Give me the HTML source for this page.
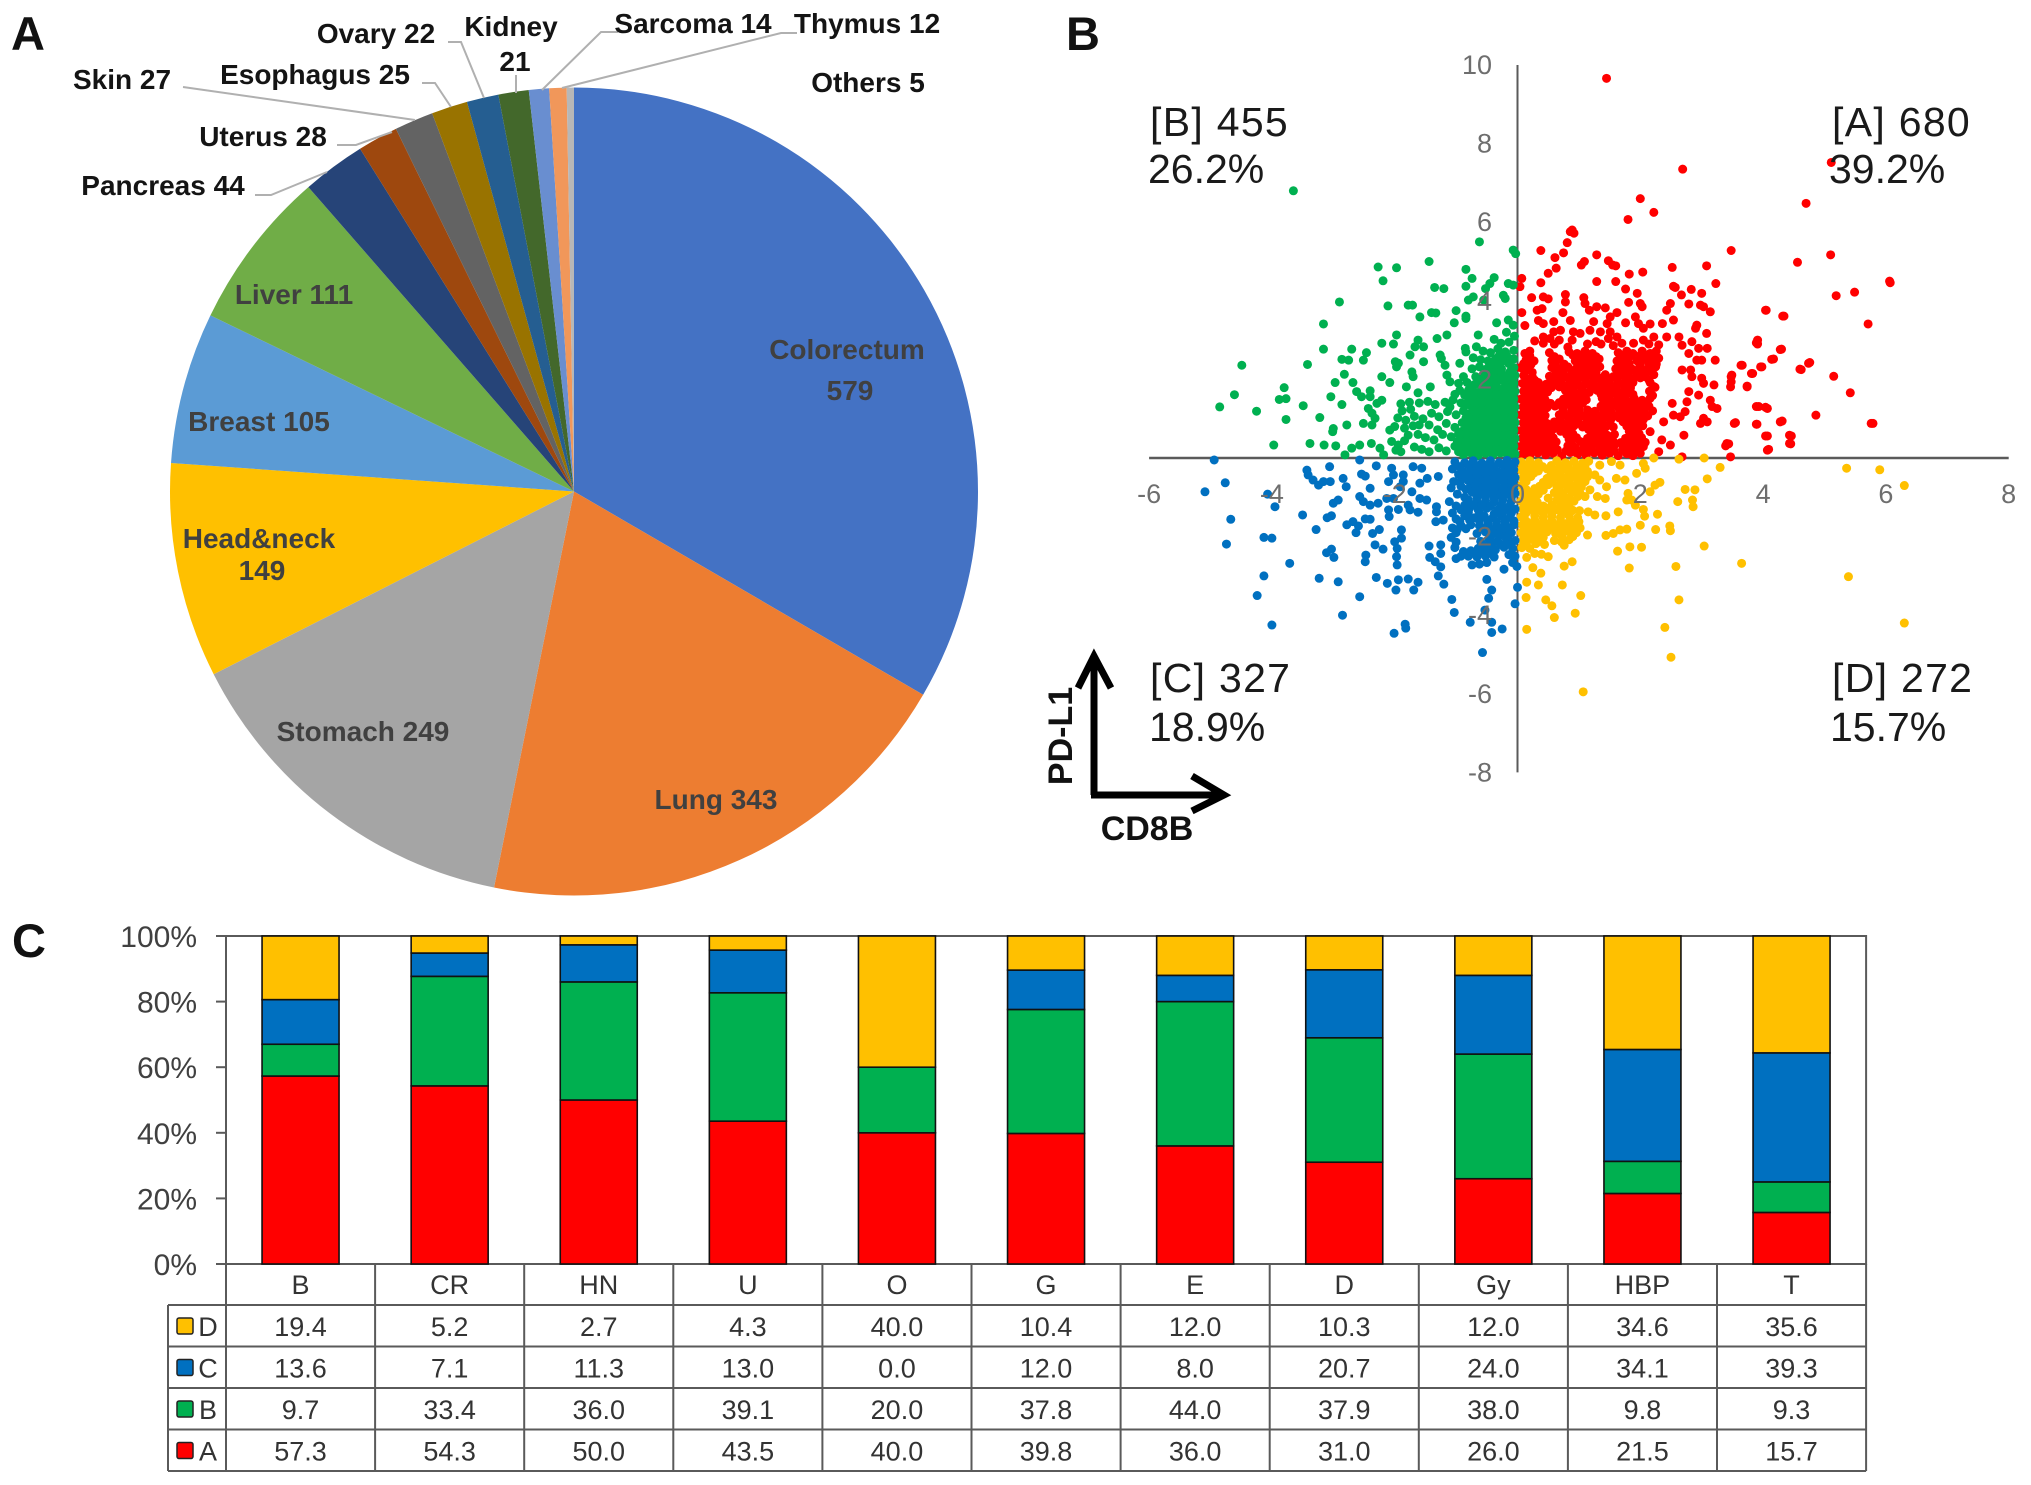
<!DOCTYPE html>
<html lang="en">
<head>
<meta charset="utf-8">
<title>PD-L1 and CD8B tumour overview</title>
<style>
html,body{margin:0;padding:0;background:#fff;}
svg{display:block;font-family:"Liberation Sans",Arial,sans-serif;}
.pl{font-weight:bold;font-size:28px;fill:#141414;text-anchor:middle;}
.pi{font-weight:bold;font-size:28px;fill:#404040;text-anchor:middle;}
.panel{font-weight:bold;font-size:47px;fill:#111;}
.quad{font-size:41px;fill:#1a1a1a;}
.cnt{letter-spacing:1.3px;}
.lead{fill:none;stroke:#b0b0b0;stroke-width:2;}
</style>
</head>
<body>
<svg id="figure" xmlns="http://www.w3.org/2000/svg" width="2031" height="1485" viewBox="0 0 2031 1485">
<rect width="2031" height="1485" fill="#fff"/>
<g id="pie"></g>
<g>
<polyline class="lead" points="255,195 271,195 327,172"/>
<polyline class="lead" points="337,145 356,145 392,132"/>
<polyline class="lead" points="183,87 415,120"/>
<polyline class="lead" points="422,83 435,83 451,107"/>
<polyline class="lead" points="448,42 461,42 484,98"/>
<polyline class="lead" points="516,75 516,93"/>
<polyline class="lead" points="618,32 601,32 542,90"/>
<polyline class="lead" points="797,33 781,33 562,88"/>
</g>
<g>
<text class="pi" x="847" y="359">Colorectum</text>
<text class="pi" x="850" y="400">579</text>
<text class="pi" x="716" y="809">Lung 343</text>
<text class="pi" x="363" y="741">Stomach 249</text>
<text class="pi" x="259" y="548">Head&amp;neck</text>
<text class="pi" x="262" y="580">149</text>
<text class="pi" x="259" y="431">Breast 105</text>
<text class="pi" x="294" y="304">Liver 111</text>
<text class="pl" x="163" y="195">Pancreas 44</text>
<text class="pl" x="263" y="146">Uterus 28</text>
<text class="pl" x="122" y="89">Skin 27</text>
<text class="pl" x="315" y="84">Esophagus 25</text>
<text class="pl" x="376" y="43">Ovary 22</text>
<text class="pl" x="511" y="36">Kidney</text>
<text class="pl" x="515" y="71">21</text>
<text class="pl" x="693" y="33">Sarcoma 14</text>
<text class="pl" x="867" y="33">Thymus 12</text>
<text class="pl" x="868" y="92">Others 5</text>
</g>
<text class="panel" x="11" y="50">A</text>
<text class="panel" x="1066" y="50">B</text>
<text class="panel" x="12" y="957">C</text>

<g id="scatterAxes"></g>
<g id="scatterDots"></g>
<g id="scatterTicks"></g>
<text class="quad cnt" x="1150" y="136">[B] 455</text>
<text class="quad" x="1148" y="183">26.2%</text>
<text class="quad cnt" x="1832" y="136">[A] 680</text>
<text class="quad" x="1829" y="183">39.2%</text>
<text class="quad cnt" x="1150" y="692">[C] 327</text>
<text class="quad" x="1149" y="741">18.9%</text>
<text class="quad cnt" x="1832" y="692">[D] 272</text>
<text class="quad" x="1830" y="741">15.7%</text>
<g fill="none" stroke="#000" stroke-width="7">
<polyline points="1094,795 1094,656"/>
<polyline points="1078,688 1094,656 1111,688"/>
<polyline points="1091,795 1222,795"/>
<polyline points="1192,776 1224,795 1192,811"/>
</g>
<text transform="translate(1072,736) rotate(-90)" text-anchor="middle" font-size="34" font-weight="bold" fill="#111">PD-L1</text>
<text x="1147" y="840" text-anchor="middle" font-size="34" font-weight="bold" fill="#111">CD8B</text>

<g id="bars"></g>
<g id="dataTable"></g>

<script>
const pieNames = ["Colorectum","Lung","Stomach","Head&neck","Breast","Liver","Pancreas","Uterus","Skin","Esophagus","Ovary","Kidney","Sarcoma","Thymus","Others"];
const pieValues = [579,343,249,149,105,111,44,28,27,25,22,21,14,12,5];
const pieColors = ["#4472C4","#ED7D31","#A5A5A5","#FFC000","#5B9BD5","#70AD47","#264478","#9E480E","#636363","#997300","#255E91","#43682B","#698ED0","#F1975A","#B7B7B7"];

const xTicks = [-6,-4,-2,0,2,4,6,8];
const yTicks = [-8,-6,-4,-2,0,2,4,6,8,10];

const pointsA = [[1.45,9.66],[2.69,7.35],[5.11,7.52],[2,6.6],[2.22,6.25],[1.8,6.07],[4.7,6.48],[.89,5.8],[.92,5.72],[.86,5.76],[.81,5.48],[.38,5.28],[3.48,5.28],[.61,5.1],[.75,5.22],[1.29,5.17],[1.09,5],[1.04,4.91],[1.48,5.02],[1.6,4.89],[1.55,4.91],[4.56,4.98],[5.1,5.17],[2.52,4.85],[3.08,4.89],[.63,4.83],[.5,4.7],[2.04,4.73],[1.82,4.68],[.07,4.57],[.04,4.36],[.38,4.46],[1.29,4.49],[1.6,4.49],[3.23,4.44],[6.07,4.46],[2.54,4.37],[2.57,4.34],[2.83,4.29],[2.67,4.15],[3,4.19],[5.19,4.13],[5.49,4.22],[1.76,4.3],[1.95,4.19],[.23,4.08],[.42,4.1],[.5,4.05],[.78,4.16],[.78,3.97],[1.08,4.08],[1.1,3.93],[1.81,3.96],[2,3.93],[2.03,3.85],[2.49,3.93],[2.43,3.76],[2.79,3.92],[2.98,3.89],[3.03,3.85],[3.14,3.72],[4.05,3.76],[4.34,3.61],[.4,3.8],[.32,3.76],[.07,3.7],[1.17,3.76],[1.29,3.85],[1.43,3.82],[1.62,3.7],[1.51,3.59],[.74,3.7],[1.92,3.59],[2.54,3.51],[2.92,3.38],[2.9,3.3],[1.76,3.44],[1.24,3.47],[2.36,3.42],[2.16,3.41],[1.97,3.42],[2.05,3.3],[.12,3.37],[.34,3.5],[.42,3.42],[.59,3.47],[.86,3.5],[1.46,3.42],[3.08,3.17],[3.91,3],[3.91,2.9],[4.3,2.77],[4.17,2.52],[3.98,2.32],[3.83,2.15],[4.74,2.41],[4.62,2.25],[3.66,2.36],[3.49,2.11],[3.48,1.94],[3.47,1.81],[3.74,1.83],[3.22,2.49],[3.2,1.86],[.42,3.08],[.59,3.21],[.7,3.25],[.53,3.04],[.89,3],[.91,3.21],[1.02,3.17],[1.18,3.25],[1.35,3.21],[1.51,3.21],[1.62,3.08],[1.7,2.92],[1.89,2.92],[2.05,3],[2.22,3.08],[2.43,3.08],[2.63,3.08],[2.68,2.87],[2.84,2.96],[2.95,2.79],[3.09,2.79],[2.79,2.66],[2.92,2.49],[3,2.49],[2.68,2.24],[2.82,2.24],[2.84,2.07],[3,2.03],[3.03,1.9],[2.79,1.69],[2.95,1.6],[2.76,1.43],[3.14,1.47],[3.17,1.31],[3.25,1.26],[2.52,1.39],[2.73,1.18],[2.54,1.09],[2.65,1.05],[3.03,1.01],[2.98,.88],[3.09,.92],[2.38,.92],[2.71,.58],[3.55,.9],[3.9,.86],[4.31,.94],[3.93,1.31],[4.07,1.26],[4.07,.56],[4.46,.56],[4.45,.36],[4.09,.22],[3.44,.36],[3.39,.31],[3.47,.03],[2.68,.03],[2.3,.16],[2.35,.46],[2.49,.33],[2.16,.67],[2.05,.29],[5.15,2.08],[5.42,1.66],[4.86,1.09],[5.79,.88],[4.76,2.43],[4.6,2.26],[5.71,3.41],[4.32,3.61],[4.04,3.76],[4.28,2.76],[4.14,2.51],[3.96,2.32],[3.81,2.15],[3.89,2.93],[3.64,2.36],[3.48,2.07],[3.74,1.81],[3.89,1.31],[4.04,1.29],[4.28,.92],[3.89,.86],[3.53,.88],[4.04,.56],[4.43,.58],[4.43,.37],[4.07,.2],[3.41,.37],[6.06,4.5],[5.76,.88],
[.08,.1],[.2,.06],[.33,.13],[.46,.08],[.58,.12],[.72,.05],[.86,.14],[.98,.09],[1.12,.06],[1.25,.13],[1.38,.07],[1.5,.12],[1.64,.06],[1.78,.11],[1.88,.06],[2,.12],
[.06,.3],[.17,.27],[.3,.33],[.44,.28],[.56,.3],[.82,.31],[.94,.26],[1.08,.32],[1.2,.28],[1.33,.33],[1.46,.27],[1.58,.33],[1.72,.28],[1.84,.33],[1.96,.27],
[.08,.5],[.2,.47],[.34,.52],[.46,.48],[.58,.52],[.84,.47],[.96,.52],[1.14,.5],[1.27,.46],[1.4,.52],[1.52,.47],[1.76,.5],[1.9,.46],[2.02,.52],
[.06,.7],[.18,.67],[.31,.72],[.44,.68],[.57,.72],[.7,.68],[.83,.72],[1.16,.72],[1.28,.67],[1.41,.72],[1.82,.68],[1.95,.72],
[.09,.9],[.22,.87],[.35,.92],[.48,.88],[.6,.92],[.74,.87],[.87,.92],[1,.88],[1.13,.92],[1.26,.87],[1.38,.92],[1.51,.87],[1.72,.92],[1.85,.87],[1.97,.93],
[.06,1.1],[.19,1.07],[.32,1.12],[.45,1.08],[.68,1.1],[.81,1.07],[.94,1.12],[1.07,1.07],[1.2,1.12],[1.33,1.07],[1.46,1.12],[1.59,1.07],[1.72,1.12],[1.85,1.07],[1.98,1.12],[2.12,1.07],[2.2,1.2],
[.09,1.3],[.22,1.27],[.35,1.32],[.48,1.28],[.61,1.32],[.74,1.27],[.87,1.32],[1,1.27],[1.36,1.32],[1.49,1.27],[1.62,1.32],[1.75,1.27],[1.88,1.32],[2.01,1.27],[2.14,1.32],
[.06,1.5],[.19,1.47],[.32,1.52],[.45,1.48],[.75,1.5],[.88,1.47],[1.01,1.52],[1.12,1.48],[1.38,1.52],[1.51,1.47],[1.64,1.52],[1.77,1.47],[1.9,1.52],[2.03,1.47],[2.16,1.52],
[.1,1.7],[.23,1.67],[.36,1.72],[.49,1.68],[.78,1.72],[.91,1.67],[1.04,1.72],[1.17,1.67],[1.3,1.72],[1.43,1.67],[1.56,1.72],[1.69,1.67],[1.82,1.72],[2.15,1.7],[2.24,1.8],
[.08,1.9],[.21,1.87],[.34,1.92],[.47,1.88],[.6,1.92],[.73,1.87],[.86,1.92],[.99,1.87],[1.12,1.92],[1.25,1.87],[1.38,1.92],[1.51,1.87],[1.64,1.92],[1.77,1.87],[1.88,1.92],[2.16,1.92],
[.1,2.1],[.24,2.07],[.52,2.08],[.65,2.12],[.78,2.07],[.91,2.12],[1.04,2.07],[1.17,2.12],[1.3,2.07],[1.43,2.12],[1.56,2.07],[1.69,2.12],[1.82,2.07],[1.95,2.12],[2.08,2.07],[2.22,2.12],
[.05,2.3],[.18,2.27],[.56,2.3],[.69,2.27],[.82,2.32],[.95,2.27],[1.08,2.32],[1.21,2.27],[1.34,2.32],[1.6,2.27],[1.73,2.32],[1.86,2.27],[1.99,2.32],[2.12,2.27],[2.25,2.32],
[.14,2.5],[.27,2.47],[.56,2.48],[.68,2.52],[.94,2.47],[1.07,2.52],[1.2,2.47],[1.33,2.52],[1.62,2.47],[1.75,2.52],[1.95,2.47],[2.08,2.52],[2.2,2.47],[2.3,2.54],
[.12,2.66],[.2,2.72],[.52,2.68],[.84,2.7],[.97,2.66],[1.1,2.72],[1.22,2.66],[1.36,2.9],[1.64,2.68],[1.78,2.72],[1.88,2.66],[2.03,2.72],[2.16,2.66],[2.26,2.72],
[.42,2.92],[.6,2.9],[.82,2.82],[1.14,2.9],[1.28,2.96],[1.48,3.04],[1.56,2.86],[2.14,2.9],[2.3,2.88],[.28,2.98],[.68,3]];

const pointsAcore = [[.14,.2],[.27,.18],[.4,.22],[.52,.19],[.65,.21],[.79,.18],[.92,.22],[1.05,.19],[1.18,.21],[1.32,.18],[1.44,.22],[1.57,.19],[1.71,.21],[1.83,.18],[1.94,.2],
[.12,.4],[.25,.38],[.38,.42],[.5,.39],[.63,.41],[.88,.38],[1.02,.42],[1.16,.39],[1.3,.41],[1.44,.38],[1.56,.42],[1.68,.39],[1.82,.41],[1.95,.38],[2.08,.4],
[.14,.6],[.26,.58],[.4,.62],[.52,.59],[.8,.6],[.9,.62],[1.2,.59],[1.34,.61],[1.46,.58],[1.58,.6],[1.88,.58],[1.98,.62],
[.12,.8],[.26,.78],[.4,.82],[.54,.79],[.66,.81],[.78,.78],[.92,.82],[1.06,.79],[1.2,.81],[1.32,.78],[1.46,.82],[1.56,.79],[1.78,.81],[1.92,.78],[2.04,.82],
[.14,1],[.27,.98],[.4,1.02],[.7,.99],[.84,1.01],[.98,.98],[1.12,1.02],[1.26,.99],[1.4,1.01],[1.52,.98],[1.66,1.02],[1.8,.99],[1.92,1.01],[2.05,.98],
[.12,1.2],[.26,1.18],[.4,1.22],[.74,1.19],[.88,1.21],[1,1.18],[1.14,1.22],[1.26,1.19],[1.4,1.21],[1.52,1.18],[1.66,1.22],[1.8,1.19],[1.92,1.21],[2.06,1.18],
[.14,1.4],[.27,1.38],[.4,1.42],[.54,1.39],[.68,1.41],[.82,1.38],[.95,1.42],[1.06,1.39],[1.42,1.41],[1.56,1.38],[1.7,1.42],[1.82,1.39],[1.96,1.41],[2.1,1.38],
[.12,1.6],[.26,1.58],[.4,1.62],[.82,1.59],[.96,1.61],[1.1,1.58],[1.36,1.62],[1.5,1.59],[1.62,1.61],[1.76,1.58],[1.88,1.62],[2.2,1.59],
[.14,1.8],[.28,1.78],[.42,1.82],[.55,1.79],[.68,1.81],[.8,1.78],[.92,1.82],[1.06,1.79],[1.2,1.81],[1.34,1.78],[1.46,1.82],[1.6,1.79],[1.74,1.81],[1.84,1.78],[2.22,1.82],
[.14,2],[.28,1.98],[.56,2.02],[.7,1.99],[.84,2.01],[.98,1.98],[1.1,2.02],[1.24,1.99],[1.36,2.01],[1.5,1.98],[1.62,2.02],[1.76,1.99],[1.88,2.01],[2,2.04],[2.14,1.99],
[.12,2.2],[.24,2.18],[.62,2.22],[.74,2.19],[.88,2.21],[1.02,2.18],[1.14,2.22],[1.28,2.19],[1.66,2.21],[1.8,2.18],[1.92,2.22],[2.06,2.19],[2.18,2.21],
[.1,2.4],[.22,2.38],[.62,2.42],[.76,2.39],[1,2.41],[1.14,2.38],[1.26,2.42],[1.68,2.39],[1.82,2.41],[2,2.38],[2.14,2.42],[2.26,2.39],
[.2,2.6],[.6,2.58],[.9,2.62],[1.02,2.59],[1.16,2.61],[1.28,2.58],[1.7,2.62],[1.84,2.59],[2,2.61],[2.12,2.58],[2.24,2.6]];

const pointsB = [[-3.65,6.8],[-.62,5.5],[-.07,5.29],[-.03,5.2],[-1.44,5],[-2.27,4.86],[-1.97,4.84],[-2.19,4.51],[-.84,4.8],[-.74,4.57],[-.84,4.37],[-1.35,4.34],[-1.2,4.31],[-.38,4.59],[-.45,4.44],[-.52,4.31],[-.15,4.44],[-.07,4.4],[-2.9,3.97],[-2.11,3.87],[-1.78,3.89],[-1.71,3.89],[-.8,4.02],[-.72,4.1],[-.55,4.02],[-.23,4.14],[-.2,4.06],[-1.59,3.59],[-1.4,3.7],[-1.33,3.69],[-1,3.75],[-.84,3.61],[-.84,3.55],[-3.16,3.41],[-1.03,3.44],[-.34,3.44],[-.15,3.51],[-.07,3.38],[-1.97,3.13],[-2.02,2.9],[-2.21,2.92],[-1.62,3],[-1.67,2.83],[-1.53,2.83],[-1.31,3.04],[-1.15,3.13],[-.64,3.13],[-3.16,2.77],[-2.7,2.77],[-2.46,2.68],[-2.51,2.49],[-2.86,2.51],[-2.75,2.49],[-3.42,2.38],[-4.49,2.36],[-1.99,2.45],[-1.94,2.41],[-1.97,2.32],[-1.75,2.62],[-1.53,2.45],[-1.26,2.62],[-1.24,2.53],[-1.18,2.36],[-.85,2.79],[-.67,2.83],[-.84,2.7],[-.94,2.41],[-2.82,2.13],[-2.97,1.92],[-2.21,2.07],[-2.08,1.92],[-2.68,1.92],[-1.72,2.19],[-1.7,2.07],[-1.81,1.81],[-1.15,2.11],[-1.1,1.94],[-1.42,1.81],[-1.62,1.66],[-.88,2.07],[-3.8,1.79],[-3.88,1.49],[-3.77,1.51],[-4.61,1.61],[-3.04,1.56],[-3.49,1.33],[-2.86,1.36],[-4.25,1.19],[-4.85,1.3],[-2.62,1.69],[-2.54,1.56],[-2.4,1.71],[-2.4,1.56],[-2.21,1.47],[-2.29,1.39],[-2.43,1.26],[-2.37,1.14],[-2.32,1.01],[-2.51,.88],[-2.37,.84],[-3.22,1.03],[-3.77,.98],[-3,.75],[-3.01,.67],[-2.78,.84],[-3.97,.33],[-3.38,.37],[-3.15,.33],[-2.96,.31],[-2.81,.08],[-2.7,.25],[-2.57,.33],[-2.38,.37],[-2.24,.25],[-2.08,.71],[-2.05,.42],[-1.94,.33],[-2.18,.08],
[-1.9,1.38],[-1.76,1.42],[-1.88,1.2],[-1.74,1.24],[-1.6,1.4],[-1.46,1.44],[-1.34,1.36],[-1.18,1.42],[-1.05,1.48],[-1.95,1.02],[-1.82,.96],[-1.68,1.06],[-1.54,1],[-1.4,1.14],[-1.28,1.05],[-1.14,1.18],[-1,1.1],[-2,.8],[-1.84,.76],[-1.7,.82],[-1.44,.84],[-1.3,.72],[-1.16,.88],[-1.02,.78],[-1.78,.58],[-1.62,.6],[-1.5,.52],[-1.36,.46],[-1.22,.6],[-1.08,.54],[-1.9,.16],[-1.68,.28],[-1.56,.22],[-1.44,.16],[-1.28,.26],[-1.16,.18],[-1.02,.3],[-1.84,.44],[-1.98,.2],[-1.6,.84],[-.94,1.72],[-1.02,1.62],[-.96,1.9],[-1.1,1.3],
[-.04,.1],[-.16,.06],[-.28,.13],[-.4,.08],[-.52,.12],[-.64,.06],[-.76,.13],[-.88,.08],
[-.06,.3],[-.18,.27],[-.3,.33],[-.42,.28],[-.54,.32],[-.66,.27],[-.78,.33],[-.9,.28],
[-.04,.5],[-.16,.47],[-.28,.52],[-.4,.48],[-.52,.52],[-.64,.47],[-.76,.52],[-.9,.48],
[-.06,.7],[-.18,.67],[-.3,.72],[-.42,.68],[-.54,.72],[-.66,.67],[-.78,.72],[-.9,.68],
[-.04,.9],[-.16,.87],[-.28,.92],[-.4,.88],[-.52,.92],[-.64,.87],[-.76,.92],[-.9,.9],
[-.06,1.1],[-.18,1.07],[-.3,1.12],[-.42,1.08],[-.54,1.12],[-.66,1.07],[-.78,1.12],[-.88,1.2],
[-.04,1.3],[-.16,1.27],[-.28,1.32],[-.4,1.28],[-.52,1.32],[-.64,1.27],[-.76,1.32],[-.92,1.4],
[-.06,1.5],[-.18,1.47],[-.3,1.52],[-.42,1.48],[-.54,1.52],[-.66,1.47],[-.78,1.52],
[-.04,1.7],[-.16,1.67],[-.28,1.72],[-.4,1.68],[-.52,1.72],[-.64,1.67],[-.8,1.72],
[-.06,1.9],[-.18,1.87],[-.34,1.92],[-.46,1.88],[-.58,1.92],[-.7,1.87],[-.82,1.92],
[-.04,2.1],[-.2,2.07],[-.32,2.12],[-.44,2.07],[-.56,2.12],[-.68,2.07],
[-.06,2.3],[-.26,2.27],[-.38,2.32],[-.5,2.27],[-.62,2.32],[-.74,2.27],
[-.12,2.52],[-.24,2.47],[-.36,2.52],[-.48,2.47],[-.6,2.5],[-.72,2.55],
[-.06,2.74],[-.2,2.7],[-.32,2.78],[-.44,2.68],[-.56,2.72],[-.14,2.95],[-.27,2.92],[-.38,3.02],[-.05,3.1],[-.18,3.2]];

const pointsBcore = [[-.1,.2],[-.22,.18],[-.34,.22],[-.46,.19],[-.58,.21],[-.7,.18],[-.82,.22],[-.96,.16],
[-.1,.4],[-.22,.38],[-.34,.42],[-.46,.39],[-.58,.41],[-.7,.38],[-.84,.42],[-.98,.42],
[-.1,.6],[-.22,.58],[-.34,.62],[-.46,.59],[-.58,.61],[-.72,.58],[-.84,.62],[-.96,.62],
[-.1,.8],[-.22,.78],[-.34,.82],[-.46,.79],[-.58,.81],[-.7,.78],[-.84,.82],
[-.1,1],[-.22,.98],[-.34,1.02],[-.46,.99],[-.58,1.01],[-.7,.98],[-.84,1.02],
[-.1,1.2],[-.22,1.18],[-.34,1.22],[-.46,1.19],[-.58,1.21],[-.7,1.18],
[-.1,1.4],[-.22,1.38],[-.34,1.42],[-.46,1.39],[-.58,1.41],[-.7,1.42],[-.84,1.38],
[-.1,1.6],[-.22,1.58],[-.34,1.62],[-.46,1.59],[-.58,1.61],[-.72,1.6],[-.86,1.6],
[-.1,1.8],[-.22,1.78],[-.34,1.82],[-.46,1.79],[-.58,1.81],[-.74,1.8],
[-.1,2],[-.26,1.98],[-.38,2.02],[-.5,1.99],[-.62,2.01],[-.12,2.2],[-.26,2.18],[-.38,2.22],[-.5,2.19],
[-.14,2.4],[-.3,2.38],[-.44,2.38],[-.06,2.52],[-.18,2.62],[-.3,2.6]];

const pointsC = [[-4.94,-.05],[-5.09,-.86],[-4.76,-.63],[-4.67,-1.56],[-4.74,-2.19],[-4.07,-.92],[-3.95,-1.24],[-4.13,-2.02],[-4,-2.04],[-3.71,-2.68],[-4.13,-3],[-4.24,-3.5],[-4,-4.25],[-3.43,-.31],[-3.41,-.43],[-3.33,-.56],[-3.24,-.69],[-3.16,-.6],[-3.05,-.6],[-3.06,-.22],[-2.84,-.52],[-2.79,-.73],[-3.5,-1.45],[-3.28,-1.82],[-3.1,-1.52],[-3.03,-1.47],[-3,-1.15],[-2.92,-1.07],[-2.78,-1.7],[-2.68,-1.62],[-2.59,-1.73],[-2.63,-1.9],[-2.48,-1.55],[-2.4,-1.56],[-2.36,-1.92],[-2.25,-1.82],[-3.11,-2.41],[-3.03,-2.32],[-2.99,-2.53],[-3.23,-3.06],[-2.92,-3.15],[-2.57,-3.53],[-2.85,-4],[-2.01,-4.46],[-1.83,-4.23],[-1.82,-4.33],[-2.47,-2.47],[-2.48,-2.64],[-2.32,-2.21],[-2.19,-2.32],[-2.3,-3.04],[-2.12,-3.19],[-1.98,-3.36],[-1.94,-3.1],[-1.78,-3.08],[-1.62,-3.16],[-1.69,-3.36],[-1.89,-1.83],[-1.89,-2.04],[-2,-2.13],[-1.96,-2.3],[-1.97,-2.51],[-1.96,-2.72],[-1.44,-2.24],[-1.25,-2.21],[-1.25,-2.43],[-1.43,-2.53],[-1.34,-2.64],[-1.25,-2.77],[-1.29,-3],[-1.2,-3.21],[-1.07,-3.6],[-1.03,-3.93],[-.77,-4.18],[-.53,-3.87],[-.42,-4.18],[-.25,-4.35],[-.42,-4.44],[-.57,-4.95],[-.5,-3.09],[-.42,-3.36],[-.47,-3.57],[0,-3.29],[-.04,-3.71],[-.22,-2.83],[-.01,-2.76],[-2.57,-.05],[-2.3,-.2],[-2.54,-.41],[-2.48,-.46],[-2.1,-.6],[-2.05,-.26],[-2.02,-.43],[-1.86,-.43],[-1.86,-.6],[-1.91,-.73],[-1.7,-.22],[-1.56,-.26],[-1.59,-.64],[-1.47,-.52],[-1.29,-.47],[-2.4,-.77],[-2.57,-.98],[-2.51,-1.11],[-2.4,-1.2],[-2.27,-1.15],[-2.13,-1.03],[-2.02,-1.03],[-2.1,-1.32],[-2.09,-1.49],[-1.94,-1.31],[-1.78,-1.2],[-1.75,-1.32],[-1.62,-1.38],[-1.72,-.86],[-1.59,-1.03],[-1.48,-1.07],[-1.32,-1.24],[-1.32,-1.37],[-1.33,-1.62],[-1.21,-1.58],[-1.11,-1.11],
[-.04,-.1],[-.17,-.06],[-.3,-.12],[-.44,-.07],[-.58,-.13],[-.72,-.07],[-.86,-.12],[-1.02,-.1],
[-.06,-.3],[-.2,-.27],[-.34,-.33],[-.48,-.28],[-.62,-.32],[-.76,-.27],[-.9,-.33],[-1.06,-.28],
[-.04,-.5],[-.18,-.47],[-.32,-.52],[-.46,-.48],[-.6,-.52],[-.74,-.47],[-.88,-.52],[-1.04,-.6],
[-.06,-.7],[-.2,-.67],[-.34,-.72],[-.48,-.68],[-.62,-.72],[-.76,-.67],[-.92,-.72],[-1.08,-.76],
[-.04,-.9],[-.18,-.87],[-.32,-.92],[-.46,-.88],[-.6,-.92],[-.74,-.87],[-.98,-.92],
[-.1,-1.1],[-.24,-1.07],[-.38,-1.12],[-.52,-1.08],[-.66,-1.12],[-.8,-1.07],[-1,-1.22],
[-.04,-1.3],[-.18,-1.27],[-.32,-1.32],[-.5,-1.28],[-.64,-1.32],[-.78,-1.27],[-.92,-1.32],[-1.06,-1.4],
[-.12,-1.5],[-.26,-1.47],[-.4,-1.52],[-.54,-1.48],[-.7,-1.52],[-.86,-1.47],[-1,-1.55],
[-.06,-1.7],[-.2,-1.67],[-.34,-1.72],[-.48,-1.68],[-.62,-1.72],[-.76,-1.7],[-.92,-1.72],[-1.06,-1.78],
[-.1,-1.9],[-.24,-1.87],[-.38,-1.92],[-.52,-1.88],[-.66,-1.92],[-1,-1.9],[-1.08,-2.02],
[-.04,-2.1],[-.18,-2.07],[-.32,-2.12],[-.46,-2.08],[-.6,-2.12],[-1,-2.14],[-1.02,-2.28],
[-.08,-2.3],[-.22,-2.27],[-.36,-2.34],[-.5,-2.32],[-.64,-2.3],[-.76,-2.36],[-.88,-2.38],
[-.04,-2.5],[-.14,-2.46],[-.38,-2.52],[-.52,-2.5],[-.66,-2.52],[-.8,-2.5],[-.92,-2.5],
[-.08,-2.66],[-.5,-2.66],[-.62,-2.7],[-.74,-2.72],[-1,-2.56]];

const pointsCcore = [[-.1,-.2],[-.24,-.18],[-.38,-.22],[-.52,-.19],[-.66,-.21],[-.8,-.18],[-.94,-.22],
[-.1,-.4],[-.24,-.38],[-.38,-.42],[-.52,-.39],[-.66,-.41],[-.8,-.38],[-.96,-.42],
[-.1,-.6],[-.24,-.58],[-.38,-.62],[-.52,-.59],[-.66,-.61],[-.8,-.58],[-.94,-.62],
[-.1,-.8],[-.24,-.78],[-.38,-.82],[-.52,-.79],[-.68,-.81],[-.84,-.8],
[-.1,-1],[-.24,-.98],[-.38,-1.02],[-.52,-.99],[-.66,-1.01],[-.86,-1],
[-.12,-1.2],[-.26,-1.2],[-.44,-1.22],[-.58,-1.2],[-.72,-1.19],[-.86,-1.2],
[-.1,-1.4],[-.24,-1.38],[-.38,-1.42],[-.62,-1.39],[-.8,-1.38],
[-.06,-1.6],[-.2,-1.58],[-.34,-1.62],[-.48,-1.59],[-.62,-1.6],[-.78,-1.58],[-.94,-1.62],
[-.14,-1.8],[-.28,-1.78],[-.42,-1.82],[-.56,-1.8],[-.84,-1.8],[-.98,-1.82],
[-.16,-2],[-.3,-1.98],[-.44,-2.02],[-.12,-2.2],[-.28,-2.2],[-.42,-2.2],[-.56,-2.22],[-.7,-2.42],[-.84,-2.44],[-.44,-2.42],[-.58,-2.42]];

const pointsD = [[5.36,-.26],[5.39,-3.02],[3.3,-.24],[3.09,-.53],[2.73,-.8],[2.89,-.81],[2.61,-1.11],[2.85,-1.07],[2.86,-1.24],[3.04,-2.24],[3.65,-2.68],[2.58,-2.76],[2.63,-3.61],[2.4,-4.31],[2.5,-5.07],[1.07,-5.95],[.15,-4.36],[.6,-4.06],[.94,-3.95],[.56,-3.76],[.46,-3.61],[1.03,-3.5],[.14,-3.55],[.15,-3.16],[.34,-3.23],[.73,-3.23],[.38,-2.93],[.25,-2.79],[.76,-2.75],[.89,-2.64],[1.82,-2.8],[1.63,-2.37],[1.83,-2.26],[2.02,-2.27],[2.25,-1.82],[2.48,-1.73],[2.49,-1.85],[2,-1.71],[2.28,-1.43],[2.05,-1.31],[2.07,-1.48],[1.78,-1.81],[1.67,-1.83],[1.56,-1.92],[1.44,-1.97],[1.14,-1.96],[1.64,-1.37],[1.44,-1.47],[1.26,-1.45],[1.15,-1.37],[1.01,-1.34],[.5,-2.51],[.39,-2.45],[.28,-2.43],[.15,-2.53],[2.32,-.62],[2.24,-.69],[2.16,-.86],[1.8,-.9],[1.78,-1.07],[1.86,-1.07],[1.92,-1.2],[2.08,-.26],[1.94,-.39],[1.75,-.56],[1.61,-.52],[1.67,-.18],[1.53,-.09],[1.34,-.18],[1.26,-.43],[1.34,-.56],[1.45,-.73],[1.43,-1.03],[1.3,-.98],[1.1,-.98],[1.18,-.81],[2.22,0],[2.63,-.03],[3.04,0],[2.05,-.14],[6.3,-4.2],[5.9,-.3],[6.3,-.7],
[.06,-.1],[.2,-.07],[.34,-.12],[.64,-.07],[.78,-.12],[.92,-.08],[1.06,-.13],[1.16,-.08],
[.06,-.3],[.2,-.27],[.34,-.33],[.48,-.28],[.62,-.33],[.76,-.27],[.9,-.33],[1.04,-.28],[1.14,-.34],
[.08,-.5],[.22,-.47],[.48,-.52],[.62,-.48],[.76,-.52],[.9,-.47],[1.04,-.52],[1.14,-.48],
[.06,-.7],[.36,-.72],[.5,-.68],[.64,-.72],[.78,-.67],[.92,-.72],[1.04,-.74],
[.08,-.9],[.22,-.87],[.34,-.92],[.6,-.88],[.74,-.92],[.88,-.87],[1.02,-.9],
[.06,-1.1],[.2,-1.07],[.32,-1.12],[.64,-1.07],[.78,-1.12],[.92,-1.1],
[.08,-1.3],[.22,-1.27],[.36,-1.32],[.5,-1.28],[.64,-1.32],[.78,-1.27],[.9,-1.33],
[.06,-1.5],[.28,-1.47],[.42,-1.52],[.56,-1.48],[.7,-1.52],[.84,-1.47],[.98,-1.52],
[.08,-1.7],[.22,-1.67],[.36,-1.72],[.5,-1.68],[.64,-1.72],[.78,-1.67],[.92,-1.72],
[.06,-1.9],[.2,-1.87],[.34,-1.92],[.48,-1.88],[.62,-1.92],[.82,-1.87],[.96,-1.9],
[.08,-2.1],[.22,-2.07],[.36,-2.12],[.6,-2.1],[.72,-2.14],[.84,-2.08],[.07,-2.28],[.2,-2.3]];

const pointsDcore = [[.13,-.2],[.27,-.18],[.41,-.22],[.55,-.19],[.69,-.21],[.83,-.18],[.97,-.22],[1.1,-.2],
[.13,-.4],[.27,-.38],[.55,-.39],[.69,-.41],[.83,-.38],[.97,-.42],[1.1,-.4],
[.14,-.6],[.42,-.62],[.56,-.59],[.7,-.61],[.84,-.58],[.98,-.62],[1.1,-.6],
[.14,-.8],[.28,-.78],[.42,-.82],[.68,-.81],[.82,-.78],[.96,-.82],
[.13,-1],[.27,-.98],[.5,-1.02],[.7,-.99],[.84,-1.01],[.98,-.98],
[.14,-1.2],[.28,-1.18],[.42,-1.22],[.56,-1.19],[.7,-1.21],[.84,-1.18],
[.14,-1.4],[.28,-1.38],[.42,-1.42],[.56,-1.39],[.72,-1.41],[.86,-1.38],
[.14,-1.6],[.28,-1.58],[.42,-1.62],[.56,-1.6],[.7,-1.62],[.86,-1.6],[1,-1.62],
[.14,-1.8],[.28,-1.78],[.42,-1.82],[.58,-1.8],[.72,-1.82],[.86,-1.78],[1.02,-1.78],
[.14,-2],[.28,-1.98],[.42,-2.02],[.72,-1.98],[.9,-2],[.14,-2.18],[.3,-2.18],[.44,-2.2],[.76,-2.22]];

const scatterSeries = ["a","d","b","c"];
const scatterColors = {a:"#FF0000",b:"#00B050",c:"#0070C0",d:"#FFC000"};
const scatterPoints = {a:pointsA.concat(pointsAcore),b:pointsB.concat(pointsBcore),c:pointsC.concat(pointsCcore),d:pointsD.concat(pointsDcore)};

const barCategories = ["B","CR","HN","U","O","G","E","D","Gy","HBP","T"];
const seriesD = [19.4,5.2,2.7,4.3,40.0,10.4,12.0,10.3,12.0,34.6,35.6];
const seriesC = [13.6,7.1,11.3,13.0,0.0,12.0,8.0,20.7,24.0,34.1,39.3];
const seriesB = [9.7,33.4,36.0,39.1,20.0,37.8,44.0,37.9,38.0,9.8,9.3];
const seriesA = [57.3,54.3,50.0,43.5,40.0,39.8,36.0,31.0,26.0,21.5,15.7];
const barTicks = [0,20,40,60,80,100];

const SVGNS = "http://www.w3.org/2000/svg";
function mk(parent, tag, attrs, text) {
  const el = document.createElementNS(SVGNS, tag);
  for (const k in attrs) el.setAttribute(k, attrs[k]);
  if (text !== undefined) el.textContent = text;
  parent.appendChild(el);
  return el;
}

/* pie */
const pieG = document.getElementById("pie");
const pieCx = 574, pieCy = 491.5, pieR = 404;
const pieTotal = pieValues.reduce((a, b) => a + b, 0);
let pieAcc = 0;
pieValues.forEach((v, i) => {
  const a0 = pieAcc / pieTotal * 2 * Math.PI;
  pieAcc += v;
  const a1 = pieAcc / pieTotal * 2 * Math.PI;
  const large = (a1 - a0) > Math.PI ? 1 : 0;
  const d = "M" + pieCx + " " + pieCy +
    "L" + (pieCx + pieR * Math.sin(a0)) + " " + (pieCy - pieR * Math.cos(a0)) +
    "A" + pieR + " " + pieR + " 0 " + large + " 1 " + (pieCx + pieR * Math.sin(a1)) + " " + (pieCy - pieR * Math.cos(a1)) + "Z";
  const el = mk(pieG, "path", {d: d, fill: pieColors[i]});
  
  
});

/* scatter */
const sx = v => 1517.5 + 61.4 * v;
const sy = v => 458 - 39.3 * v;
const axG = document.getElementById("scatterAxes");
const xAxisLine = mk(axG, "line", {x1: sx(xTicks[0]), x2: sx(xTicks[xTicks.length - 1]), y1: sy(0), y2: sy(0), stroke: "#5a5a5a", "stroke-width": 2.5});


const yAxisLine = mk(axG, "line", {x1: sx(0), x2: sx(0), y1: sy(yTicks[yTicks.length - 1]), y2: sy(yTicks[0]), stroke: "#5a5a5a", "stroke-width": 2});



const dotG = document.getElementById("scatterDots");
scatterSeries.forEach(s => {
  scatterPoints[s].forEach(p => {
    const c = mk(dotG, "circle", {cx: sx(p[0]), cy: sy(p[1]), r: 4.5, fill: scatterColors[s]});
    
    
  });
});

const tickG = document.getElementById("scatterTicks");
xTicks.forEach(t => {
  const el = mk(tickG, "text", {x: sx(t), y: 503, "text-anchor": "middle", "font-size": 27, fill: "#6e6e6e"}, String(t));
  
  
});
yTicks.filter(t => t !== 0).forEach(t => {
  const el = mk(tickG, "text", {x: 1492, y: sy(t) + 9, "text-anchor": "end", "font-size": 27, fill: "#6e6e6e"}, String(t));
  
  
});

/* stacked bars */
const barsG = document.getElementById("bars");
const plotL = 226, colW = 149.1, barW = 77;
const by = p => 1264 - 328 * p / 100;
const colX = i => plotL + colW * i;
const plotR = colX(barCategories.length);
const frame = mk(barsG, "rect", {x: plotL, y: by(100), width: plotR - plotL, height: by(0) - by(100), fill: "#fff", stroke: "#5a5a5a", "stroke-width": 2});


barTicks.forEach(t => {
  const tk = mk(barsG, "line", {x1: plotL - 10, x2: plotL, y1: by(t), y2: by(t), stroke: "#5a5a5a", "stroke-width": 2});
  
  
  const lb = mk(barsG, "text", {x: 197, y: by(t) + 11, "text-anchor": "end", "font-size": 30, fill: "#404040"}, t + "%");
  
  
});
const stackOrder = [["a", seriesA, "#FF0000"], ["b", seriesB, "#00B050"], ["c", seriesC, "#0070C0"], ["d", seriesD, "#FFC000"]];
barCategories.forEach((cat, i) => {
  const total = stackOrder.reduce((s, o) => s + o[1][i], 0);
  let acc = 0;
  stackOrder.forEach(o => {
    const p0 = acc / total * 100;
    acc += o[1][i];
    const p1 = acc / total * 100;
    if (o[1][i] <= 0) return;
    const r = mk(barsG, "rect", {x: colX(i) + colW / 2 - barW / 2, y: by(p1), width: barW, height: by(p0) - by(p1), fill: o[2], stroke: "#111", "stroke-width": 1.6});
    
    
  });
});

/* table */
const tG = document.getElementById("dataTable");
const rowTop = 1305, rowH = 41.5, tblL = 168;
const tableRows = [["D", seriesD, "#FFC000"], ["C", seriesC, "#0070C0"], ["B", seriesB, "#00B050"], ["A", seriesA, "#FF0000"]];
const tblLine = (x1, y1, x2, y2) => {
  const l = mk(tG, "line", {x1: x1, y1: y1, x2: x2, y2: y2, stroke: "#5a5a5a", "stroke-width": 2});
  
  
};
for (let r = 0; r <= tableRows.length; r++) tblLine(tblL, rowTop + rowH * r, plotR, rowTop + rowH * r);
tblLine(tblL, rowTop, tblL, rowTop + rowH * tableRows.length);
for (let c = 0; c <= barCategories.length; c++) tblLine(colX(c), by(0), colX(c), rowTop + rowH * tableRows.length);
barCategories.forEach((cat, i) => {
  const el = mk(tG, "text", {x: colX(i) + colW / 2, y: 1294, "text-anchor": "middle", "font-size": 27, fill: "#333"}, cat);
  
  
});
tableRows.forEach((row, r) => {
  const base = rowTop + rowH * r + 31;
  const sw = mk(tG, "rect", {x: 177, y: rowTop + rowH * r + 13, width: 16, height: 16, rx: 2, fill: row[2], stroke: "#222", "stroke-width": 1.5});
  
  
  const key = mk(tG, "text", {x: 208, y: base, "text-anchor": "middle", "font-size": 27, fill: "#333"}, row[0]);
  
  
  row[1].forEach((v, i) => {
    const el = mk(tG, "text", {x: colX(i) + colW / 2, y: base, "text-anchor": "middle", "font-size": 27, fill: "#333"}, v.toFixed(1));
    
    
  });
});
</script>
</svg>
</body>
</html>
